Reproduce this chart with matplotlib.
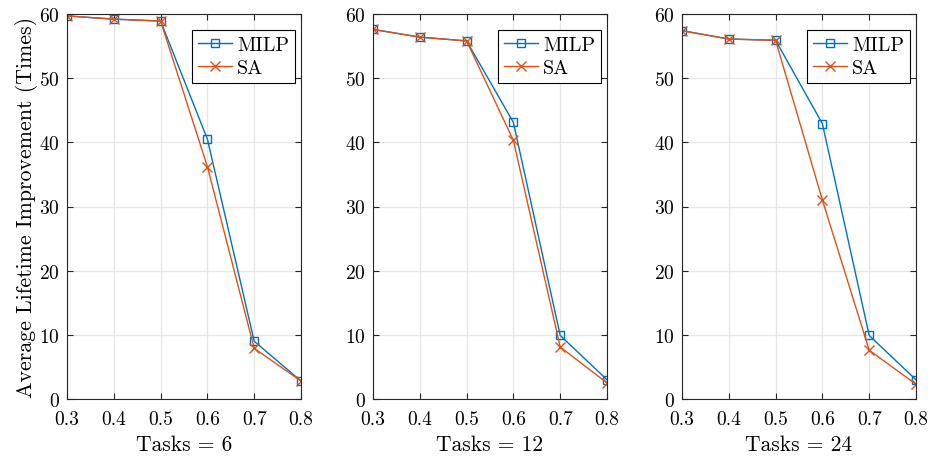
import matplotlib
matplotlib.use("Agg")
import matplotlib.pyplot as plt

# ── data ────────────────────────────────────────────────────────────────────
x = [0.3, 0.4, 0.5, 0.6, 0.7, 0.8]

milp_6 = [59.7, 59.2, 58.9, 40.5, 9.0, 2.8]
sa_6 = [59.7, 59.2, 58.9, 36.2, 7.9, 2.8]

milp_12 = [57.6, 56.4, 55.8, 43.1, 9.9, 3.0]
sa_12 = [57.6, 56.4, 55.8, 40.3, 8.1, 2.5]

milp_24 = [57.4, 56.1, 55.9, 42.9, 9.9, 3.0]
sa_24 = [57.4, 56.1, 55.9, 31.0, 7.6, 2.3]

task_labels = ["Tasks = 6", "Tasks = 12", "Tasks = 24"]
xticks = [0.3, 0.4, 0.5, 0.6, 0.7, 0.8]
yticks = [0, 10, 20, 30, 40, 50, 60]
# ────────────────────────────────────────────────────────────────────────────

plt.rcParams["font.family"] = ["cmr10", "DejaVu Serif"]
plt.rcParams["mathtext.fontset"] = "cm"
plt.rcParams["axes.formatter.use_mathtext"] = True

BLUE = "#0072BD"
ORANGE = "#D95319"
EDGE = "#262626"

fig = plt.figure(figsize=(9.32, 4.6), dpi=100)

lefts = [67 / 932, 373 / 932, 682 / 932]
bottom = 60 / 460
height = 385 / 460
width = 234 / 932

series = [(milp_6, sa_6), (milp_12, sa_12), (milp_24, sa_24)]

for i, (milp, sa) in enumerate(series):
    ax = fig.add_axes([lefts[i], bottom, width, height])
    ax.plot(x, milp, color=BLUE, lw=1.0, marker="s", ms=5.5,
            mfc="none", mec=BLUE, mew=1.0, label="MILP")
    ax.plot(x, sa, color=ORANGE, lw=1.0, marker="x", ms=6.5,
            mec=ORANGE, mew=1.0, label="SA")

    ax.set_xlim(0.3, 0.8)
    ax.set_ylim(0, 60)
    ax.set_xticks(xticks)
    ax.set_yticks(yticks)
    ax.set_xticklabels([f"{t:.1f}" for t in xticks])
    ax.grid(True, color="#e6e6e6", lw=0.9)
    ax.set_axisbelow(True)
    ax.tick_params(direction="in", top=True, right=True, length=4,
                   color=EDGE, labelsize=14, labelcolor="black")
    ax.tick_params(axis="x", pad=8)
    ax.tick_params(axis="y", pad=5)
    for s in ax.spines.values():
        s.set_color(EDGE)
        s.set_linewidth(0.8)

    ax.set_xlabel(task_labels[i], fontsize=15.5, labelpad=5)
    if i == 0:
        ax.set_ylabel("Average Lifetime Improvement (Times)", fontsize=15.8, labelpad=1)

    leg = ax.legend(loc="upper right", bbox_to_anchor=(0.974, 0.958),
                    fontsize=14.5, fancybox=False, framealpha=1,
                    edgecolor="black", handlelength=1.7, handletextpad=0.25,
                    borderpad=0.3, labelspacing=0.25, borderaxespad=0)
    leg.get_frame().set_linewidth(0.8)

fig.savefig("out.png", dpi=100)
